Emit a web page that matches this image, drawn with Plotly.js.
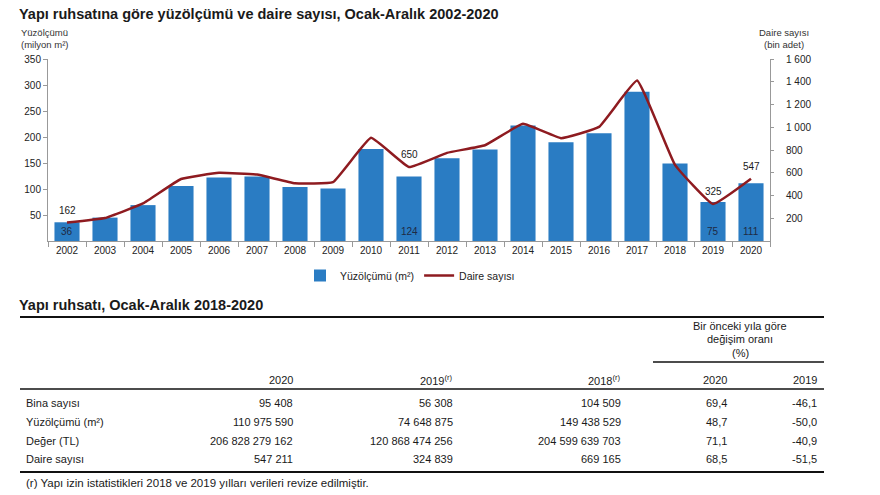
<!DOCTYPE html>
<html><head><meta charset="utf-8">
<script src="https://cdn.plot.ly/plotly-3.0.1.min.js"></script>
<style>html,body{margin:0;padding:0;background:#fff}</style>
</head><body><div id="chart" style="width:880px;height:495px"></div>
<script>
// ---- Chart data ----
const years = ['2002','2003','2004','2005','2006','2007','2008','2009','2010','2011','2012','2013','2014','2015','2016','2017','2018','2019','2020'];
const yuzolcumu = [36,45,69,106,122,124,104,101,177,124,159,176,222,190,207,287,149,75,111];   // milyon m²
const daire = [162,202,330,545,600,584,507,517,907,650,775,842,1030,904,1003,1410,669,325,547]; // bin adet
const labelYears = ['2002','2011','2019','2020'];
const leftTicks = [50,100,150,200,250,300,350];
const rightTicks = [200,400,600,800,1000,1200,1400,1600];
const rightTickText = ['200','400','600','800','1 000','1 200','1 400','1 600'];

// ---- Table data ----
const rowLabels = ['Bina sayısı','Yüzölçümü (m²)','Değer (TL)','Daire sayısı'];
const colHeaders = ['2020','2019<sup>(r)</sup>','2018<sup>(r)</sup>','2020','2019'];
const val2020 = ['95 408','110 975 590','206 828 279 162','547 211'];
const val2019 = ['56 308','74 648 875','120 868 474 256','324 839'];
const val2018 = ['104 509','149 438 529','204 599 639 703','669 165'];
const pct2020 = ['69,4','48,7','71,1','68,5'];
const pct2019 = ['-46,1','-50,0','-40,9','-51,5'];

const W = 880, H = 495;
const px = x => x / W, py = y => 1 - y / H;
const FONT = 'Liberation Sans, Arial, sans-serif';
const TXT = '#1a1a1a';

const idx = labelYears.map(y => years.indexOf(y));

const traces = [
  {type:'bar', name:'Yüzölçümü (m²)', x:years, y:yuzolcumu, marker:{color:'#2A7CC3'}, hoverinfo:'skip'},
  {type:'scatter', mode:'lines', name:'Daire sayısı', x:years, y:daire, yaxis:'y2',
   line:{color:'#8E1B20', width:2.5, shape:'spline', smoothing:0.3}, hoverinfo:'skip'}
];

const ann = [];
// bar value labels at bottom inside bars, line value labels above points
idx.forEach(i => {
  ann.push({text:String(yuzolcumu[i]), x:i, y:0, xref:'x', yref:'y', yanchor:'bottom', yshift:2,
    showarrow:false, font:{family:FONT,size:10,color:'#1f2a44'}});
  ann.push({text:String(daire[i]), x:i, y:daire[i], xref:'x', yref:'y2', yanchor:'bottom', yshift:5,
    showarrow:false, font:{family:FONT,size:10,color:TXT}});
});

const A = (text,x,y,opt={}) => ann.push(Object.assign({text, x:px(x), y:py(y), xref:'paper', yref:'paper', showarrow:false,
  xanchor:'left', yanchor:'middle', font:{family:FONT,size:11,color:TXT}}, opt));

A('<b>Yapı ruhsatına göre yüzölçümü ve daire sayısı, Ocak-Aralık 2002-2020</b>', 17, 14, {font:{family:FONT,size:14.5,color:TXT}});
A('Yüzölçümü<br>(milyon m²)', 19, 38, {font:{family:FONT,size:9.5,color:'#333'}, align:'left'});
A('Daire sayısı<br>(bin adet)', 784, 38, {xanchor:'center', font:{family:FONT,size:9.5,color:'#333'}, align:'center'});

A('<b>Yapı ruhsatı, Ocak-Aralık 2018-2020</b>', 17, 305, {font:{family:FONT,size:14.5,color:TXT}});
A('Bir önceki yıla göre', 740, 326, {xanchor:'center'});
A('değişim oranı', 740, 339, {xanchor:'center'});
A('(%)', 740, 353, {xanchor:'center'});
const colRight = [295, 455, 623, 729, 819];
colHeaders.forEach((h,i) => A(h, colRight[i], 380, {xanchor:'right'}));
const rowY = [402.5, 421.5, 440.5, 459];
const cols = [val2020, val2019, val2018, pct2020, pct2019];
rowLabels.forEach((lab,r) => {
  A(lab, 24, rowY[r]);
  cols.forEach((c,ci) => A(c[r], colRight[ci], rowY[r], {xanchor:'right'}));
});
A('(r) Yapı izin istatistikleri 2018 ve 2019 yılları verileri revize edilmiştir.', 24, 483, {font:{family:FONT,size:11.5,color:TXT}});

const L = (x0,y0,x1,y1,w) => ({type:'line', xref:'paper', yref:'paper', x0:px(x0), x1:px(x1), y0:py(y0), y1:py(y1), line:{color:'#111', width:w}});
const shapes = [L(20,317,824,317,2), L(653,362,824,362,1.5), L(20,389,824,389,1.5), L(20,472,824,472,2)];

const axisCommon = {showgrid:false, zeroline:false, showline:true, linecolor:'#999', linewidth:1,
  ticks:'outside', ticklen:4, tickcolor:'#999', tickfont:{family:FONT,size:10,color:'#222'}};

const layout = {
  width:W, height:H, margin:{l:0,r:0,t:0,b:0}, paper_bgcolor:'#fff', plot_bgcolor:'#fff',
  font:{family:FONT, color:TXT},
  bargap:0.34,
  xaxis:Object.assign({}, axisCommon, {domain:[px(48),px(770)], type:'category', categoryorder:'array', categoryarray:years,
    range:[-0.5, years.length-0.5], autorange:false, tickson:'boundaries', ticklen:5, fixedrange:true}),
  yaxis:Object.assign({}, axisCommon, {domain:[py(241),py(59)], range:[0,350], tickvals:leftTicks, fixedrange:true}),
  yaxis2:Object.assign({}, axisCommon, {overlaying:'y', side:'right', range:[0,1600], tickvals:rightTicks, ticktext:rightTickText,
    fixedrange:true, ticklen:3, ticklabelstandoff:10}),
  showlegend:true,
  legend:{orientation:'h', x:px(300), xanchor:'left', y:py(261), yanchor:'top', font:{family:FONT,size:10.5,color:'#222'}, itemwidth:30, tracegroupgap:0},
  annotations:ann, shapes:shapes
};

Plotly.newPlot('chart', traces, layout, {displayModeBar:false, staticPlot:true});
</script></body></html>
